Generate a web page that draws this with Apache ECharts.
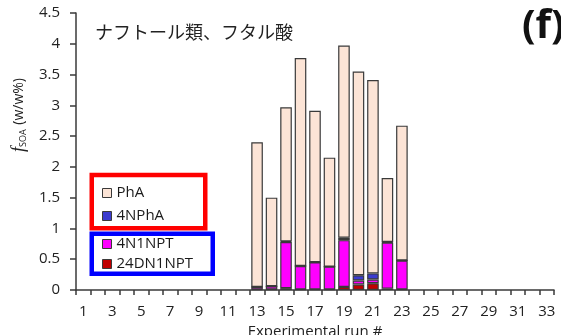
<!DOCTYPE html>
<html>
<head>
<meta charset="utf-8">
<script src="https://cdn.jsdelivr.net/npm/echarts@6/dist/echarts.min.js"></script>
<style>
  html, body { margin: 0; padding: 0; background: #fff; overflow: hidden; }
  #chart { width: 561px; height: 335px; }
</style>
</head>
<body>
<div id="chart"></div>
<script>
// Experimental runs 1..33
const runs = Array.from({ length: 33 }, (_, i) => String(i + 1));

// fSOA contributions (w/w%) per run, stacked from bottom to top
const dn1npt24 = [null,null,null,null,null,null,null,null,null,null,null,null,
  0.01, 0.01, 0.03, 0.01, 0.01, 0.01, 0.05, 0.09, 0.11, 0.02, 0.01,
  null,null,null,null,null,null,null,null,null,null];
const n1npt4 = [null,null,null,null,null,null,null,null,null,null,null,null,
  0.04, 0.05, 0.75, 0.38, 0.44, 0.37, 0.76, 0.065, 0.06, 0.75, 0.47,
  null,null,null,null,null,null,null,null,null,null];
const npha4 = [null,null,null,null,null,null,null,null,null,null,null,null,
  0, 0, 0.01, 0, 0, 0, 0.04, 0.085, 0.10, 0.01, 0,
  null,null,null,null,null,null,null,null,null,null];
const pha = [null,null,null,null,null,null,null,null,null,null,null,null,
  2.35, 1.44, 2.18, 3.38, 2.46, 1.77, 3.12, 3.31, 3.14, 1.04, 2.19,
  null,null,null,null,null,null,null,null,null,null];

const yTicks = { min: 0, max: 4.5, interval: 0.5 };

const edge = '#3a3a3a';
const seriesDefs = [
  { name: '24DN1NPT', data: dn1npt24, color: '#c00000' },
  { name: '4N1NPT', data: n1npt4, color: '#ff00ff' },
  { name: '4NPhA', data: npha4, color: '#3b3bcf' },
  { name: 'PhA', data: pha, color: '#fce4d6' }
];

const chart = echarts.init(document.getElementById('chart'), null, { renderer: 'canvas' });

const legendText = { fontFamily: 'Open Sans', fontSize: 15, color: '#1a1a1a', lineHeight: 16 };

chart.setOption({
  animation: false,
  backgroundColor: '#ffffff',
  textStyle: { fontFamily: 'Open Sans' },
  grid: { left: 76, right: 7, top: 13, bottom: 45, containLabel: false, outerBoundsMode: 'none' },
  title: [
    {
      text: 'ナフトール類、フタル酸',
      left: 90, top: 18,
      textStyle: { fontFamily: 'Noto Sans CJK JP', fontSize: 18, fontWeight: 'normal', color: '#222' }
    },
    {
      text: '(f)',
      left: 517, top: 2,
      textStyle: { fontFamily: 'Open Sans', fontSize: 40, fontWeight: 'bold', color: '#111' }
    }
  ],
  legend: [
    {
      data: ['PhA', '4NPhA'],
      orient: 'vertical', left: 97, top: 180,
      itemWidth: 9, itemHeight: 9, itemGap: 7,
      icon: 'rect',
      itemStyle: { borderColor: edge, borderWidth: 1 },
      textStyle: legendText
    },
    {
      data: ['4N1NPT', '24DN1NPT'],
      orient: 'vertical', left: 97, top: 231,
      itemWidth: 9, itemHeight: 9, itemGap: 4,
      icon: 'rect',
      itemStyle: { borderColor: edge, borderWidth: 1 },
      textStyle: legendText
    }
  ],
  graphic: [
    {
      type: 'rect', z: 100,
      shape: { x: 91.75, y: 175, width: 113.5, height: 53.3 },
      style: { fill: 'none', stroke: '#ff0000', lineWidth: 4.5 }
    },
    {
      type: 'rect', z: 100,
      shape: { x: 91.75, y: 233.8, width: 121, height: 40 },
      style: { fill: 'none', stroke: '#0000ff', lineWidth: 4.5 }
    },
    {
      // y-axis title: italic f with subscript SOA
      type: 'text', z: 100,
      x: 19, y: 115, rotation: Math.PI / 2,
      style: {
        text: '{i|f}{s|SOA} (w/w%)',
        align: 'center', verticalAlign: 'middle',
        fontFamily: 'Open Sans', fontSize: 14, fill: '#222',
        rich: {
          i: { fontFamily: 'Liberation Serif', fontStyle: 'italic', fontSize: 18, fill: '#222' },
          s: { fontFamily: 'Open Sans', fontSize: 9, fill: '#222', padding: [8, 1, 0, 0] }
        }
      }
    }
  ],
  xAxis: {
    type: 'category',
    data: runs,
    name: 'Experimental run #',
    nameLocation: 'middle',
    nameGap: 30,
    nameTextStyle: { fontFamily: 'Open Sans', fontSize: 15, color: '#222' },
    axisLine: { lineStyle: { color: edge, width: 1.5 } },
    axisTick: { show: true, alignWithLabel: false, interval: 0, length: 5, inside: false, lineStyle: { color: edge, width: 1.5 } },
    axisLabel: { interval: 1, fontFamily: 'Open Sans', fontSize: 15, color: '#222', margin: 14 },
    splitLine: { show: false }
  },
  yAxis: {
    type: 'value',
    min: yTicks.min, max: yTicks.max, interval: yTicks.interval,
    axisLine: { show: true, lineStyle: { color: edge, width: 1.5 } },
    axisTick: { show: true, length: 6, lineStyle: { color: edge, width: 1.5 } },
    axisLabel: { fontFamily: 'Open Sans', fontSize: 15, color: '#222', margin: 16 },
    splitLine: { show: false }
  },
  series: seriesDefs.map(s => ({
    name: s.name,
    type: 'bar',
    stack: 'total',
    data: s.data,
    barCategoryGap: '20%',
    itemStyle: { color: s.color, borderColor: edge, borderWidth: 1.2 }
  }))
});
</script>
</body>
</html>
